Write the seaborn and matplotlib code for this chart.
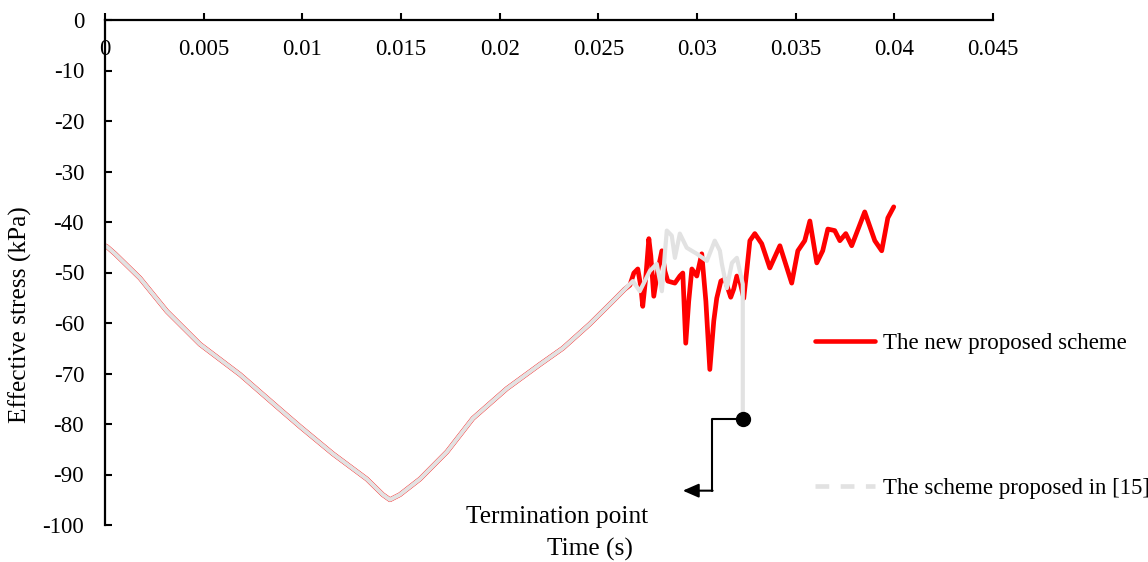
import matplotlib
matplotlib.use("Agg")
import matplotlib.pyplot as plt
import seaborn as sns
import numpy as np
import pandas as pd
from matplotlib.lines import Line2D

# ---- data ----
common_t = [0.0, 0.0001, 0.00051, 0.00177, 0.00314, 0.00481, 0.00684, 0.00887, 0.00988,
            0.01155, 0.01327, 0.01408, 0.01444, 0.01494, 0.01596, 0.01733, 0.01864,
            0.02036, 0.02204, 0.0232, 0.02457, 0.02573, 0.02634]
common_s = [-44.7, -44.9, -46.3, -51.1, -57.7, -64.2, -70.2, -77.1, -80.5,
            -85.9, -90.9, -94.0, -95.0, -94.0, -90.9, -85.5, -78.9,
            -73.0, -68.2, -65.0, -60.2, -55.7, -53.3]

new_t = [0.0266, 0.0268, 0.027, 0.02715, 0.02725, 0.02741, 0.02756, 0.02766, 0.02781,
         0.02801, 0.02822, 0.02837, 0.02852, 0.02888, 0.02913, 0.02928, 0.02943, 0.02958,
         0.02974, 0.02999, 0.03024, 0.03045, 0.03065, 0.03085, 0.031, 0.03121, 0.03141,
         0.03161, 0.03171, 0.03186, 0.03202, 0.03217, 0.03237, 0.03252, 0.03268, 0.03293,
         0.03328, 0.03369, 0.0342, 0.0348, 0.03511, 0.03546, 0.03572, 0.03607, 0.03637,
         0.03663, 0.03698, 0.03724, 0.03754, 0.03784, 0.0385, 0.03901, 0.03936, 0.03967,
         0.03997]
new_s = [-52.5, -50.1, -49.3, -52.7, -56.7, -50.7, -43.3, -46.7, -54.7,
         -49.7, -45.7, -49.7, -51.7, -52.1, -50.7, -50.1, -64.0, -55.7,
         -49.3, -50.7, -46.3, -55.7, -69.2, -59.6, -55.1, -51.7, -51.3,
         -53.7, -54.9, -53.3, -50.7, -51.7, -55.1, -49.7, -43.7, -42.3,
         -44.3, -49.1, -44.7, -52.1, -45.7, -43.7, -39.8, -48.1, -45.7,
         -41.4, -41.7, -43.7, -42.3, -44.7, -38.0, -43.7, -45.7, -39.2,
         -37.0]

old_t = [0.02675, 0.0271, 0.02761, 0.02796, 0.02822, 0.02837, 0.02847, 0.02872, 0.02888,
         0.02913, 0.02948, 0.02999, 0.0305, 0.0309, 0.03116, 0.03126, 0.03151, 0.03177,
         0.03202, 0.03232, 0.03232]
old_s = [-51.7, -53.7, -49.7, -48.3, -53.7, -46.3, -41.7, -42.7, -47.1,
         -42.3, -45.1, -46.3, -47.7, -43.7, -45.7, -48.3, -53.1, -48.1,
         -47.1, -52.3, -79.1]

labels = ["The new proposed scheme", "The scheme proposed in [15]"]
x_label = "Time (s)"
y_label = "Effective stress (kPa)"
x_ticks = [0, 0.005, 0.01, 0.015, 0.02, 0.025, 0.03, 0.035, 0.04, 0.045]
x_ticklabels = ["0", "0.005", "0.01", "0.015", "0.02", "0.025", "0.03", "0.035", "0.04", "0.045"]
y_ticks = [0, -10, -20, -30, -40, -50, -60, -70, -80, -90, -100]
annot_text = "Termination point"

sns.set_theme(style="white")
plt.rcParams["font.family"] = ["Liberation Serif", "DejaVu Serif"]
plt.rcParams["text.color"] = "black"
plt.rcParams["axes.labelcolor"] = "black"
plt.rcParams["xtick.color"] = "black"
plt.rcParams["ytick.color"] = "black"
FS = 16.5
FL = 18.3

red_df = pd.DataFrame({"t": common_t + new_t, "s": common_s + new_s})
gray_df = pd.DataFrame({"t": common_t + old_t, "s": common_s + old_s})

fig = plt.figure(figsize=(11.48, 5.62), dpi=100)
ax = fig.add_axes([105/1148, 1 - 525/562, 888/1148, 505/562])

sns.lineplot(data=red_df, x="t", y="s", ax=ax, color="#ff0000", lw=3.4,
             sort=False, estimator=None, solid_joinstyle="round", solid_capstyle="round")
sns.lineplot(data=gray_df, x="t", y="s", ax=ax, color="#e2e2e2", lw=3.0,
             sort=False, estimator=None, solid_joinstyle="round", solid_capstyle="round")

ax.set_xlim(0, 0.045)
ax.set_ylim(-100, 0)

for side in ["bottom", "right"]:
    ax.spines[side].set_visible(False)
for side in ["top", "left"]:
    ax.spines[side].set_visible(True)
    ax.spines[side].set_color("black")
    ax.spines[side].set_linewidth(1.6)

ax.set_xticks(x_ticks)
ax.set_xticklabels(x_ticklabels)
ax.set_yticks(y_ticks)
ax.set_yticklabels([str(v) for v in y_ticks])
ax.tick_params(axis="x", top=True, bottom=False, labeltop=True, labelbottom=False,
               direction="out", length=5, width=1.5, color="black", pad=-34,
               labelsize=FS, labelcolor="black")
ax.tick_params(axis="y", left=True, right=False, direction="in", length=5, width=1.5,
               color="black", pad=15, labelsize=FS, labelcolor="black")
for lbl in ax.get_xticklabels():
    lbl.set_verticalalignment("bottom")

ax.set_xlabel(x_label, fontsize=FL, color="black")
ax.set_ylabel(y_label, fontsize=FL, color="black")
ax.xaxis.set_label_coords((590-105)/888, (525-549)/505)
ax.yaxis.set_label_coords((20-105)/888, (525-315)/505)
ax.xaxis.label.set_verticalalignment("center")
ax.yaxis.label.set_verticalalignment("center")

# termination point marker and elbow arrow
tx, ty = old_t[-1], old_s[-1]
ax.plot([tx], [ty], "o", color="black", markersize=10, zorder=5)
x_elb = 0.03075
y_elb = -93.2
x_tip = 0.02928
ax.plot([tx, x_elb, x_elb], [ty, ty, y_elb], color="black", lw=1.5, zorder=4)
ax.annotate("", xy=(x_tip, y_elb), xytext=(x_elb + 0.00004, y_elb),
            arrowprops=dict(arrowstyle="-|>,head_length=0.8,head_width=0.35",
                            color="black", lw=1.5, shrinkA=0, shrinkB=0))
ax.text(0.0229, -98.4, annot_text, fontsize=FL, ha="center", va="center", color="black")

handles = [Line2D([], [], color="#ff0000", lw=3.3),
           Line2D([], [], color="#e2e2e2", lw=3.3, linestyle=(0, (3, 2.5)))]
leg = ax.legend(handles, labels, loc="center left",
                bbox_to_anchor=((806-105)/888, (525-416)/505),
                frameon=False, fontsize=FS, handlelength=2.6, handletextpad=0.35,
                labelspacing=5.45, borderaxespad=0)
for t in leg.get_texts():
    t.set_color("black")

fig.savefig("out.png", dpi=100)
